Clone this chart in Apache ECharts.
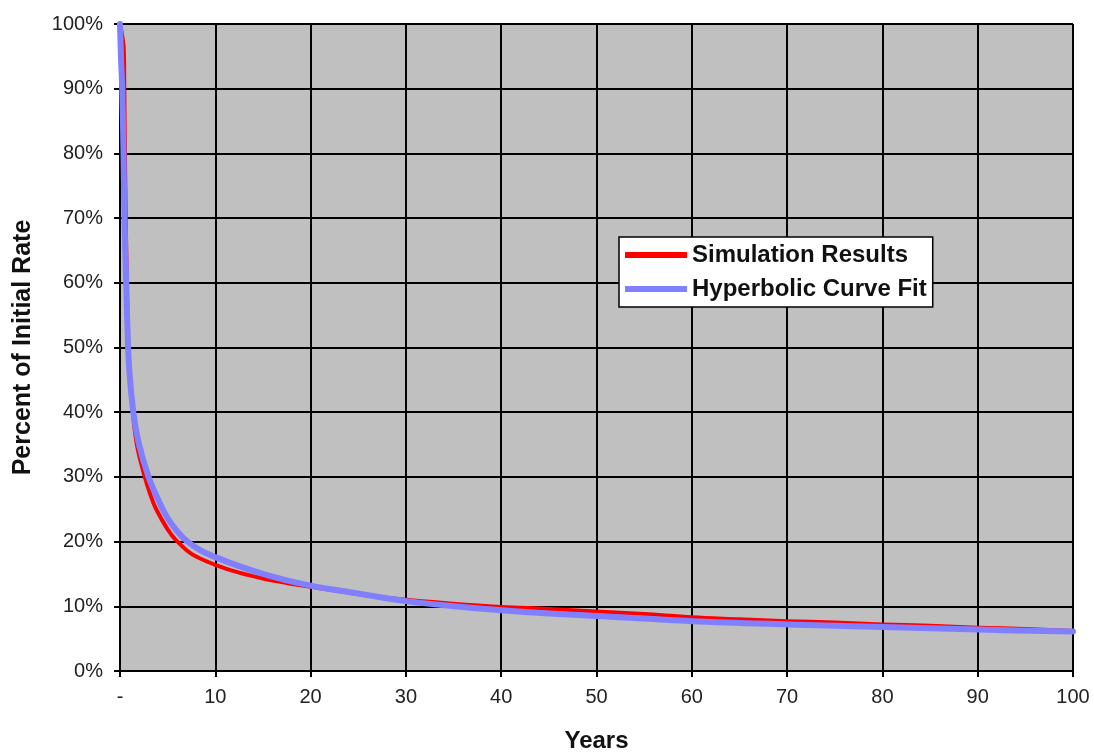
<!DOCTYPE html>
<html>
<head>
<meta charset="utf-8">
<script src="https://cdn.jsdelivr.net/npm/echarts@6/dist/echarts.min.js"></script>
<style>html,body{margin:0;padding:0;background:#fff;}#c{width:1094px;height:754px;}</style>
</head>
<body>
<div id="c"></div>
<script>
// Years and percent of initial rate
var simYears = [0, 0.4, 0.45, 0.52, 0.6, 0.72, 0.88, 1.1, 1.35, 1.6, 1.9, 2.6, 3.2, 3.8, 5.0, 5.9, 7.5, 10, 12.5, 15, 17.5, 20, 25, 30, 35, 40, 45, 50, 55, 60, 65, 70, 75, 80, 85, 90, 95, 100];
var simValues = [100, 96, 90, 80, 70, 60, 50, 44.5, 40, 36.6, 34, 30, 27.2, 25, 21.9, 20.2, 18.1, 16.4, 15.2, 14.3, 13.6, 13.0, 11.9, 11.0, 10.4, 9.9, 9.6, 9.2, 8.8, 8.3, 8.0, 7.7, 7.5, 7.2, 7.0, 6.7, 6.5, 6.2];
var fitYears = [0, 0.1, 0.23, 0.37, 0.47, 0.65, 0.85, 1.0, 1.4, 2.0, 3.0, 4.0, 5.0, 6.0, 7.0, 8.5, 10, 12.5, 15, 17.5, 20, 24, 30, 35, 40, 45, 50, 60, 70, 80, 90, 100];
var fitValues = [100, 95, 90, 80, 70, 60, 50, 46, 40, 35, 30, 26.5, 23.6, 21.6, 20.1, 18.6, 17.6, 16.2, 15.0, 14.0, 13.2, 12.2, 10.8, 10.0, 9.4, 8.9, 8.5, 7.7, 7.2, 6.8, 6.4, 6.1];
var seriesNames = ['Simulation Results', 'Hyperbolic Curve Fit'];
var xTicks = [0, 10, 20, 30, 40, 50, 60, 70, 80, 90, 100];

function pairs(xs, ys) { return xs.map(function (x, i) { return [x, ys[i]]; }); }

var chart = echarts.init(document.getElementById('c'), null, { renderer: 'canvas' });
var font = '"Liberation Sans", Arial, sans-serif';
chart.setOption({
  animation: false,
  backgroundColor: '#ffffff',
  textStyle: { fontFamily: font },
  grid: {
    left: 120, right: 21, top: 24, bottom: 83,
    show: true, backgroundColor: '#C0C0C0', borderWidth: 0,
    containLabel: false, outerBoundsMode: 'none'
  },
  legend: {
    orient: 'vertical', left: 619, top: 237,
    padding: [6, 6, 6, 6], itemGap: 10,
    itemWidth: 62, itemHeight: 6,
    backgroundColor: '#ffffff', borderColor: '#000', borderWidth: 1.5, borderRadius: 0,
    icon: 'rect',
    textStyle: { fontFamily: font, fontSize: 24, fontWeight: 'bold', color: '#111', padding: [0, 0, 0, 0] },
    data: seriesNames
  },
  xAxis: {
    type: 'value', min: 0, max: 100, interval: 10,
    name: 'Years', nameLocation: 'middle', nameGap: 58,
    nameTextStyle: { fontFamily: font, fontSize: 24, fontWeight: 'bold', color: '#111' },
    axisLine: { show: true, onZero: false, lineStyle: { color: '#000', width: 2 } },
    axisTick: { show: true, length: 6, inside: false, lineStyle: { color: '#000', width: 2 } },
    axisLabel: { margin: 16, fontSize: 20, color: '#222', fontFamily: font,
      formatter: function (v) { return v === 0 ? '-' : String(v); },
      customValues: xTicks },
    splitLine: { show: true, lineStyle: { color: '#000', width: 2 } }
  },
  yAxis: {
    type: 'value', min: 0, max: 100, interval: 10,
    name: 'Percent of Initial Rate', nameLocation: 'middle', nameGap: 84, nameRotate: 90,
    nameTextStyle: { fontFamily: font, fontSize: 25, fontWeight: 'bold', color: '#111' },
    axisLine: { show: true, lineStyle: { color: '#000', width: 2 } },
    axisTick: { show: true, length: 6, lineStyle: { color: '#000', width: 2 } },
    axisLabel: { margin: 17, fontSize: 20, color: '#222', fontFamily: font, formatter: '{value}%' },
    splitLine: { show: true, lineStyle: { color: '#000', width: 2 } }
  },
  series: [
    {
      name: seriesNames[0], type: 'line', data: pairs(simYears, simValues),
      showSymbol: false, symbol: 'none', smooth: 0.35,
      lineStyle: { color: '#FF0000', width: 4, join: 'round', cap: 'round' }, itemStyle: { color: '#FF0000' }, z: 3
    },
    {
      name: seriesNames[1], type: 'line', data: pairs(fitYears, fitValues),
      showSymbol: false, symbol: 'none', smooth: 0.35,
      lineStyle: { color: '#8080FF', width: 6, join: 'round', cap: 'round' }, itemStyle: { color: '#8080FF' }, z: 4
    }
  ]
});
</script>
</body>
</html>
